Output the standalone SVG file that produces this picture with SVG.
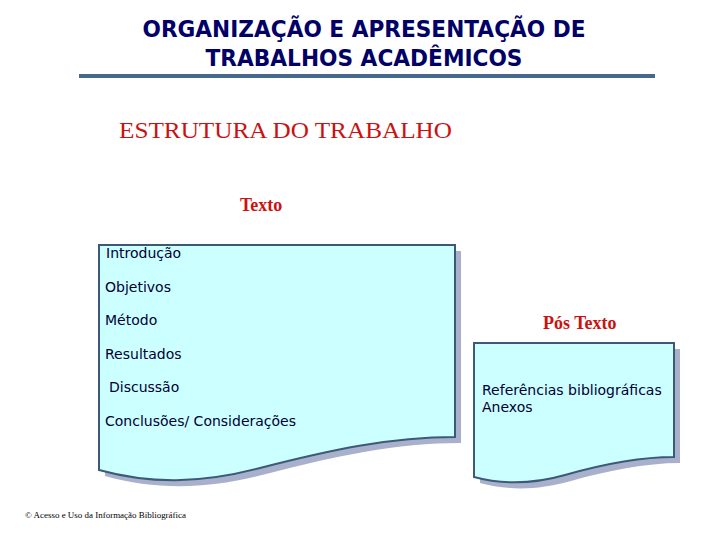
<svg xmlns="http://www.w3.org/2000/svg" width="720" height="540" viewBox="0 0 720 540">
<defs>
<style>
.title{font-family:"DejaVu Sans",Verdana,sans-serif;font-weight:bold;font-size:23px;fill:#000066;text-anchor:middle}
.red{font-family:"Liberation Serif","Times New Roman",serif;fill:#cc1111}
.item{font-family:"DejaVu Sans",Tahoma,sans-serif;font-size:14px;fill:#000033}
.doc{fill:#ccffff;stroke:#3c5a78;stroke-width:2}
.shadow{fill:#a8b0cc}
</style>
</defs>
<rect width="720" height="540" fill="#ffffff"/>
<g id="title">
<text class="title" x="364" y="37" textLength="443" lengthAdjust="spacingAndGlyphs">ORGANIZAÇÃO E APRESENTAÇÃO DE</text>
<text class="title" x="364" y="66" textLength="317" lengthAdjust="spacingAndGlyphs">TRABALHOS ACADÊMICOS</text>
<rect x="79" y="74" width="576" height="4" fill="#46688f"/>
</g>
<text id="heading" class="red" x="119" y="138" font-size="24" textLength="333" lengthAdjust="spacingAndGlyphs">ESTRUTURA DO TRABALHO</text>
<text id="label-texto" class="red" x="240" y="211" font-size="18" font-weight="bold">Texto</text>
<text id="label-pos" class="red" x="543" y="329" font-size="18" font-weight="bold">Pós Texto</text>
<g id="doc-texto">
<path class="shadow" transform="translate(6,6)" d="M99,245 H455 V437 C390,437 330,450 260,468 C200,484 150,484 99,470 Z"/>
<path class="doc" d="M99,245 H455 V437 C390,437 330,450 260,468 C200,484 150,484 99,470 Z"/>
<text class="item" x="106" y="258">Introdução</text>
<text class="item" x="105" y="292">Objetivos</text>
<text class="item" x="105" y="325">Método</text>
<text class="item" x="105" y="359">Resultados</text>
<text class="item" x="109" y="392">Discussão</text>
<text class="item" x="105" y="426">Conclusões/ Considerações</text>
</g>
<g id="doc-pos">
<path class="shadow" transform="translate(6,6)" d="M474,343 H674 V457 C640,457 600,465 565,475 C530,485 500,484 474,477 Z"/>
<path class="doc" d="M474,343 H674 V457 C640,457 600,465 565,475 C530,485 500,484 474,477 Z"/>
<text class="item" x="482" y="395">Referências bibliográficas</text>
<text class="item" x="482" y="412">Anexos</text>
</g>
<g id="connectors"></g>
<text id="footer" x="25" y="518" font-family="'Liberation Serif',serif" font-size="8" fill="#000000" textLength="161" lengthAdjust="spacingAndGlyphs">© Acesso e Uso da Informação Bibliográfica</text>
</svg>
